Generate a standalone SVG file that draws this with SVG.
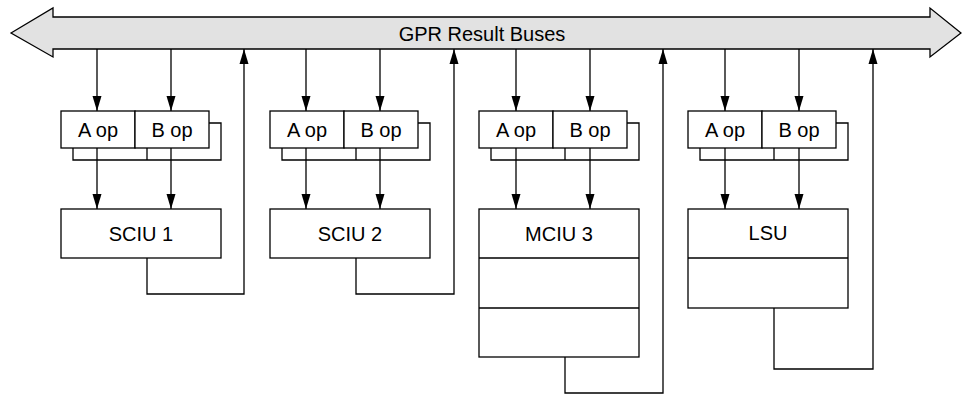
<svg xmlns="http://www.w3.org/2000/svg" width="962" height="395" viewBox="0 0 962 395">
<defs>
<marker id="ah" markerUnits="userSpaceOnUse" markerWidth="15" markerHeight="10" refX="15" refY="5" orient="auto">
<path d="M0,0.5 L15,5 L0,9.5 Z" fill="#000"/>
</marker>
<style>
.box{fill:#fff;stroke:#000;stroke-width:1.3}
.ln{fill:none;stroke:#000;stroke-width:1.3}
.arr{fill:none;stroke:#000;stroke-width:1.3;marker-end:url(#ah)}
.t{font-family:"Liberation Sans",Arial,sans-serif;font-size:20px;fill:#000;text-anchor:middle}
</style>
</defs>
<rect width="962" height="395" fill="#fff"/>
<g id="bus">
<polygon points="11,33 53,8 53,17 930,17 930,8 961,33 930,57 930,49 53,49 53,57" fill="#e2e2e2" stroke="#000" stroke-width="1.3"/>
<text class="t" x="482" y="41">GPR Result Buses</text>
</g>
<g id="ops1">
<path class="ln" d="M73,148 V160 H147 M147,148 V160 H221 V123 H208"/>
<rect class="box" x="61" y="111" width="74" height="37"/><text class="t" x="98" y="137">A op</text>
<rect class="box" x="135" y="111" width="74" height="37"/><text class="t" x="172" y="137">B op</text>
</g>
<g id="sciu1">
<rect class="box" x="61" y="209" width="160" height="49"/><text class="t" x="141" y="241">SCIU 1</text>
</g>
<g id="ops2">
<path class="ln" d="M282,148 V160 H356 M356,148 V160 H430 V123 H417"/>
<rect class="box" x="270" y="111" width="74" height="37"/><text class="t" x="307" y="137">A op</text>
<rect class="box" x="344" y="111" width="74" height="37"/><text class="t" x="381" y="137">B op</text>
</g>
<g id="sciu2">
<rect class="box" x="270" y="209" width="160" height="49"/><text class="t" x="350" y="241">SCIU 2</text>
</g>
<g id="ops3">
<path class="ln" d="M491,148 V160 H565 M565,148 V160 H639 V123 H626"/>
<rect class="box" x="479" y="111" width="74" height="37"/><text class="t" x="516" y="137">A op</text>
<rect class="box" x="553" y="111" width="74" height="37"/><text class="t" x="590" y="137">B op</text>
</g>
<g id="mciu3">
<rect class="box" x="479" y="209" width="160" height="148"/>
<path class="ln" d="M479,258 H639 M479,308 H639"/>
<text class="t" x="559" y="241">MCIU 3</text>
</g>
<g id="ops4">
<path class="ln" d="M700,148 V160 H774 M774,148 V160 H848 V123 H835"/>
<rect class="box" x="688" y="111" width="74" height="37"/><text class="t" x="725" y="137">A op</text>
<rect class="box" x="762" y="111" width="74" height="37"/><text class="t" x="799" y="137">B op</text>
</g>
<g id="lsu">
<rect class="box" x="688" y="209" width="160" height="99"/>
<path class="ln" d="M688,258 H848"/>
<text class="t" x="768" y="240">LSU</text>
</g>
<g id="connectors">
<path class="arr" d="M97,49 V111"/><path class="arr" d="M171,49 V111"/>
<path class="arr" d="M97,148 V209"/><path class="arr" d="M171,148 V209"/>
<path class="arr" d="M147,258 V294 H244 V49"/>
<path class="arr" d="M306,49 V111"/><path class="arr" d="M380,49 V111"/>
<path class="arr" d="M306,148 V209"/><path class="arr" d="M380,148 V209"/>
<path class="arr" d="M356,258 V294 H454 V49"/>
<path class="arr" d="M516,49 V111"/><path class="arr" d="M590,49 V111"/>
<path class="arr" d="M516,148 V209"/><path class="arr" d="M590,148 V209"/>
<path class="arr" d="M565,357 V393 H663 V49"/>
<path class="arr" d="M725,49 V111"/><path class="arr" d="M799,49 V111"/>
<path class="arr" d="M725,148 V209"/><path class="arr" d="M799,148 V209"/>
<path class="arr" d="M774,308 V369 H873 V49"/>
</g>
</svg>
